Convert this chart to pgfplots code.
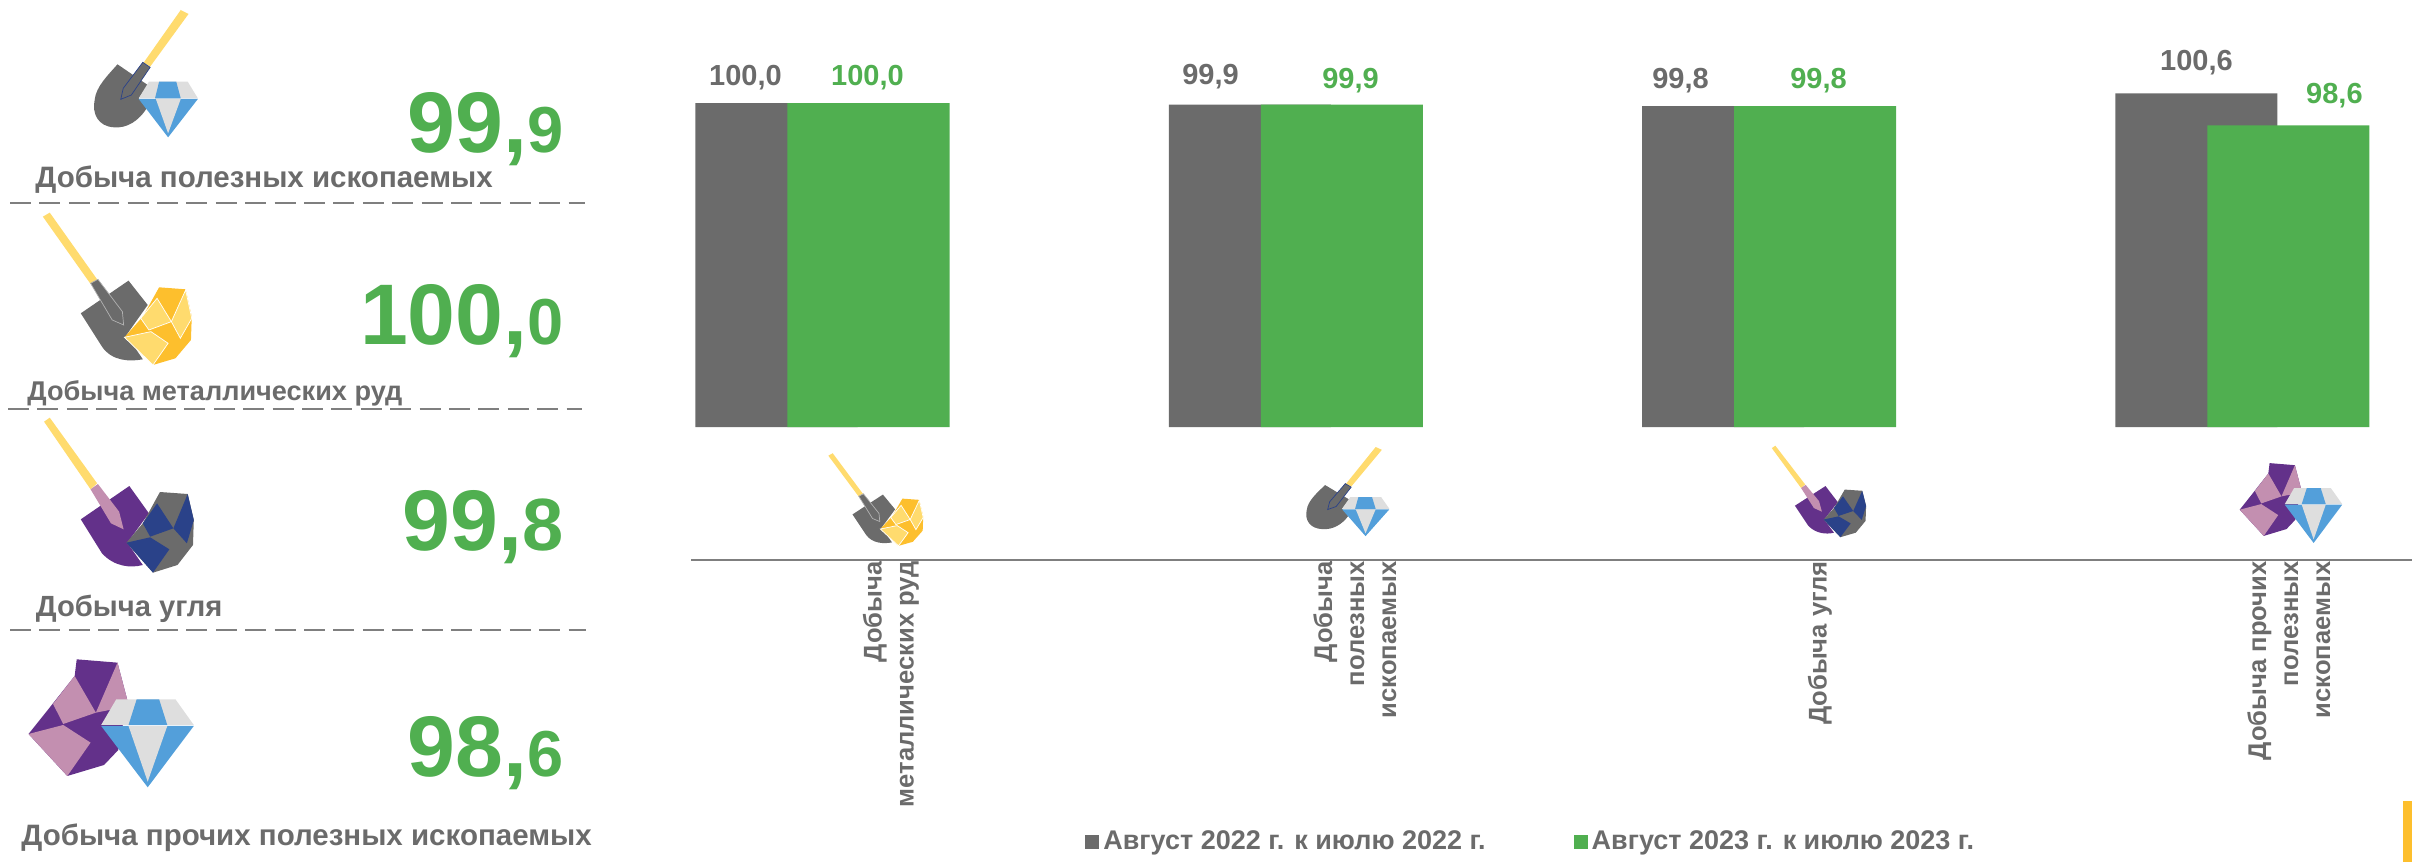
\documentclass[border=0pt]{standalone}
\usepackage{fontspec}
\setmainfont{Liberation Sans}
\usepackage{pgfplots}
\pgfplotsset{compat=1.18}
\definecolor{dgrey}{HTML}{6B6B6B}
\definecolor{dgreen}{HTML}{50AF50}
\definecolor{dashgrey}{HTML}{7F7F7F}
\definecolor{handle}{HTML}{FFDB6E}
\definecolor{gold}{HTML}{FDBF2D}
\definecolor{navy}{HTML}{2A4289}
\definecolor{purp}{HTML}{63318A}
\definecolor{pink}{HTML}{C38FB0}
\definecolor{lblue}{HTML}{539FDA}
\definecolor{lgrey}{HTML}{DEDEDE}
\newcommand{\iconA}{%
 \fill[handle] (443,30)--(462,42)--(368,200)--(352,188)--cycle;
 \fill[dgrey] (288,193)--(362,255)--(340,295)--(362,320) .. controls (340,365) and (310,385) .. (280,382) .. controls (240,380) and (225,340) .. (232,300) .. controls (235,260) and (265,225) .. (288,193)--cycle;
 \filldraw[fill=dgrey,draw=navy,line width=.35pt] (350,187)--(368,202)--(322,285)--(296,298)--(302,265)--cycle;
 \fill[lgrey] (365,245)--(460,245)--(485,295)--(340,295)--cycle;
 \fill[lblue] (390,245)--(432,245)--(443,295)--(380,295)--cycle;
 \fill[lblue] (340,297)--(485,297)--(412,412)--cycle;
 \fill[lgrey] (382,297)--(443,297)--(412,400)--cycle;
}
\newcommand{\iconB}{%
 \fill[handle] (105,650)--(122,638)--(238,838)--(222,852)--cycle;
 \fill[dgrey] (315,842)--(362,915)--(310,1005)--(350,1078) .. controls (320,1085) and (275,1085) .. (250,1040)--(198,940)--cycle;
 \filldraw[fill=dgrey,draw=gray!60,line width=.35pt] (222,850)--(240,838)--(300,935)--(303,975)--(275,960)--cycle;
 \fill[gold] (390,862)--(455,868)--(470,950)--(468,1020)--(430,1075)--(375,1095)--(305,1012)--(350,950)--cycle;
 \filldraw[fill=handle,draw=white,line width=.35pt] (385,895)--(420,965)--(365,990)--(345,955)--cycle;
 \filldraw[fill=handle,draw=white,line width=.35pt] (455,870)--(470,955)--(442,1015)--(420,965)--cycle;
 \filldraw[fill=handle,draw=white,line width=.35pt] (305,1012)--(370,995)--(412,1030)--(375,1095)--cycle;
}
\newcommand{\iconC}{%
 \fill[handle] (108,-25)--(122,-37)--(238,160)--(222,178)--cycle;
 \fill[purp] (317,168)--(365,250)--(312,338)--(350,405) .. controls (320,415) and (280,410) .. (250,370)--(198,268)--cycle;
 \fill[pink] (222,178)--(240,162)--(292,245)--(303,298)--(272,280)--cycle;
 \fill[dgrey] (392,186)--(460,192)--(475,270)--(473,345)--(435,405)--(375,428)--(310,338)--(350,280)--cycle;
 \fill[navy] (460,192)--(475,270)--(458,340)--(425,295)--cycle;
 \fill[navy] (385,220)--(425,295)--(368,320)--(350,280)--cycle;
 \fill[navy] (310,338)--(368,322)--(415,358)--(375,428)--cycle;
}
\newcommand{\iconD}{%
 \fill[purp] (188,688)--(288,698)--(312,810)--(290,960)--(255,1005)--(165,1038)--(70,912)--(130,820)--(183,738)--cycle;
 \fill[pink] (288,698)--(312,810)--(310,830)--(235,848)--cycle;
 \fill[pink] (183,738)--(235,848)--(155,882)--(130,822)--cycle;
 \fill[pink] (70,912)--(155,885)--(222,938)--(165,1038)--cycle;
 \fill[lgrey] (285,808)--(430,808)--(475,885)--(248,885)--cycle;
 \fill[lblue] (335,808)--(390,808)--(410,885)--(315,885)--cycle;
 \fill[lblue] (248,888)--(475,888)--(362,1072)--cycle;
 \fill[lgrey] (315,888)--(410,888)--(362,1055)--cycle;
}
\newcommand{\nameL}[3]{\node[anchor=base west,inner sep=0pt,text=dgrey,font=\fontsize{#3}{#3}\selectfont\bfseries] at #1 {#2};}
\newcommand{\bigval}[4]{\node[anchor=base east,inner sep=0pt,text=dgreen,font=\bfseries] at #1 {\fontsize{43}{43}\selectfont #2,\fontsize{#4}{#4}\selectfont #3};}
\begin{document}
\begin{tikzpicture}[x=0.5pt,y=-0.5pt]
\path[use as bounding box] (0,0) rectangle (2412,862);
% left panel
\begin{scope}[xscale=0.408,yscale=0.3333]\iconA\iconB\end{scope}
\begin{scope}[shift={(0,430)},xscale=0.408,yscale=0.3333]\iconC\iconD\end{scope}
\nameL{(35,187)}{Добыча полезных ископаемых}{14.75}
\nameL{(27,400)}{Добыча металлических руд}{13.56}
\nameL{(35.5,616)}{Добыча угля}{14.6}
\nameL{(21,845)}{Добыча прочих полезных ископаемых}{14.75}
\bigval{(564,152)}{99}{9}{32.5}
\bigval{(564,344)}{100}{0}{32.5}
\bigval{(564,550)}{99}{8}{37}
\bigval{(564,776)}{98}{6}{32.5}
\foreach \yy/\xa/\xb in {203/10/585,409/8/582,630/10/586}
  \draw[dashgrey,line width=1.3pt,dash pattern=on 10.5pt off 4.2pt] (\xa,\yy)--(\xb,\yy);
% gold corner
\fill[gold] (2403,801) rectangle (2412,862);
\begin{axis}[
  at={(345.5pt,-213.5pt)},anchor=south west,scale only axis,
  width=860.5pt,height=170pt,
  xmin=-0.2778,xmax=3.3583,ymin=79.75,ymax=101,
  axis y line=none,axis x line=bottom,
  axis x line shift=66.5pt,
  x axis line style={draw=dashgrey,line width=1.15pt,-},
  ybar,
  major tick length=0pt,
  xtick={0.1447,1.125,2.1075,3.098},
  xticklabels={{Добыча\\металлических руд},{Добыча\\полезных\\ископаемых},{Добыча угля},{Добыча прочих\\полезных\\ископаемых}},
  xticklabel style={rotate=90,anchor=east,align=right,inner sep=0.5pt,text=dgrey,font=\fontsize{12.8}{16}\selectfont\bfseries},
  point meta=explicit symbolic,
  visualization depends on={\thisrow{dx} \as \dx},
  visualization depends on={\thisrow{dy} \as \dy},
  nodes near coords,
  every node near coord/.append style={anchor=base,inner sep=0pt,font=\fontsize{14.5}{14.5}\selectfont\bfseries,xshift={\dx*0.5pt},yshift={\dy*0.5pt}},
  legend columns=2,
  legend style={at={(axis description cs:0.2289,-1.2206)},anchor=west,draw=none,fill=none,inner sep=0pt,font=\fontsize{13.5}{13.5}\selectfont\bfseries,text=dgrey,
    /tikz/every even column/.append style={column sep=42pt}},
  legend image code/.code={\fill[#1,draw=none] (0pt,-3.5pt) rectangle (7pt,3.5pt);},
]
\addplot[ybar,fill=dgrey,draw=none,bar width=81pt,bar shift=-23pt,every node near coord/.append style={text=dgrey}]
 table[x=x,y=y,meta=lab] {
 x y lab dx dy
 0 100.0 100,0 -31 18
 1 99.9 99,9 -39.3 20.6
 2 99.8 99,8 -42.6 18.2
 3 100.6 100,6 0 23.4
};
\addlegendentry{Август 2022 г. к июлю 2022 г.}
\addplot[ybar,fill=dgreen,draw=none,bar width=81pt,bar shift=23pt,every node near coord/.append style={text=dgreen}]
 table[x=x,y=y,meta=lab] {
 x y lab dx dy
 0 100.0 100,0 -1 18
 1 99.9 99,9 8.7 16.1
 2 99.8 99,8 3.4 17.7
 3 98.6 98,6 46 21.9
};
\addlegendentry{Август 2023 г. к июлю 2023 г.}
\end{axis}
% chart icons
\begin{scope}[shift={(801,323.9)},xscale=0.26,yscale=0.2027]\iconB\end{scope}
\begin{scope}[shift={(1231,440)},xscale=0.3265,yscale=0.2333]\iconA\end{scope}
\begin{scope}[shift={(1744,453)},xscale=0.257,yscale=0.1967]\iconC\end{scope}
\begin{scope}[shift={(2222,320)},xscale=0.253,yscale=0.208]\iconD\end{scope}
\end{tikzpicture}
\end{document}
